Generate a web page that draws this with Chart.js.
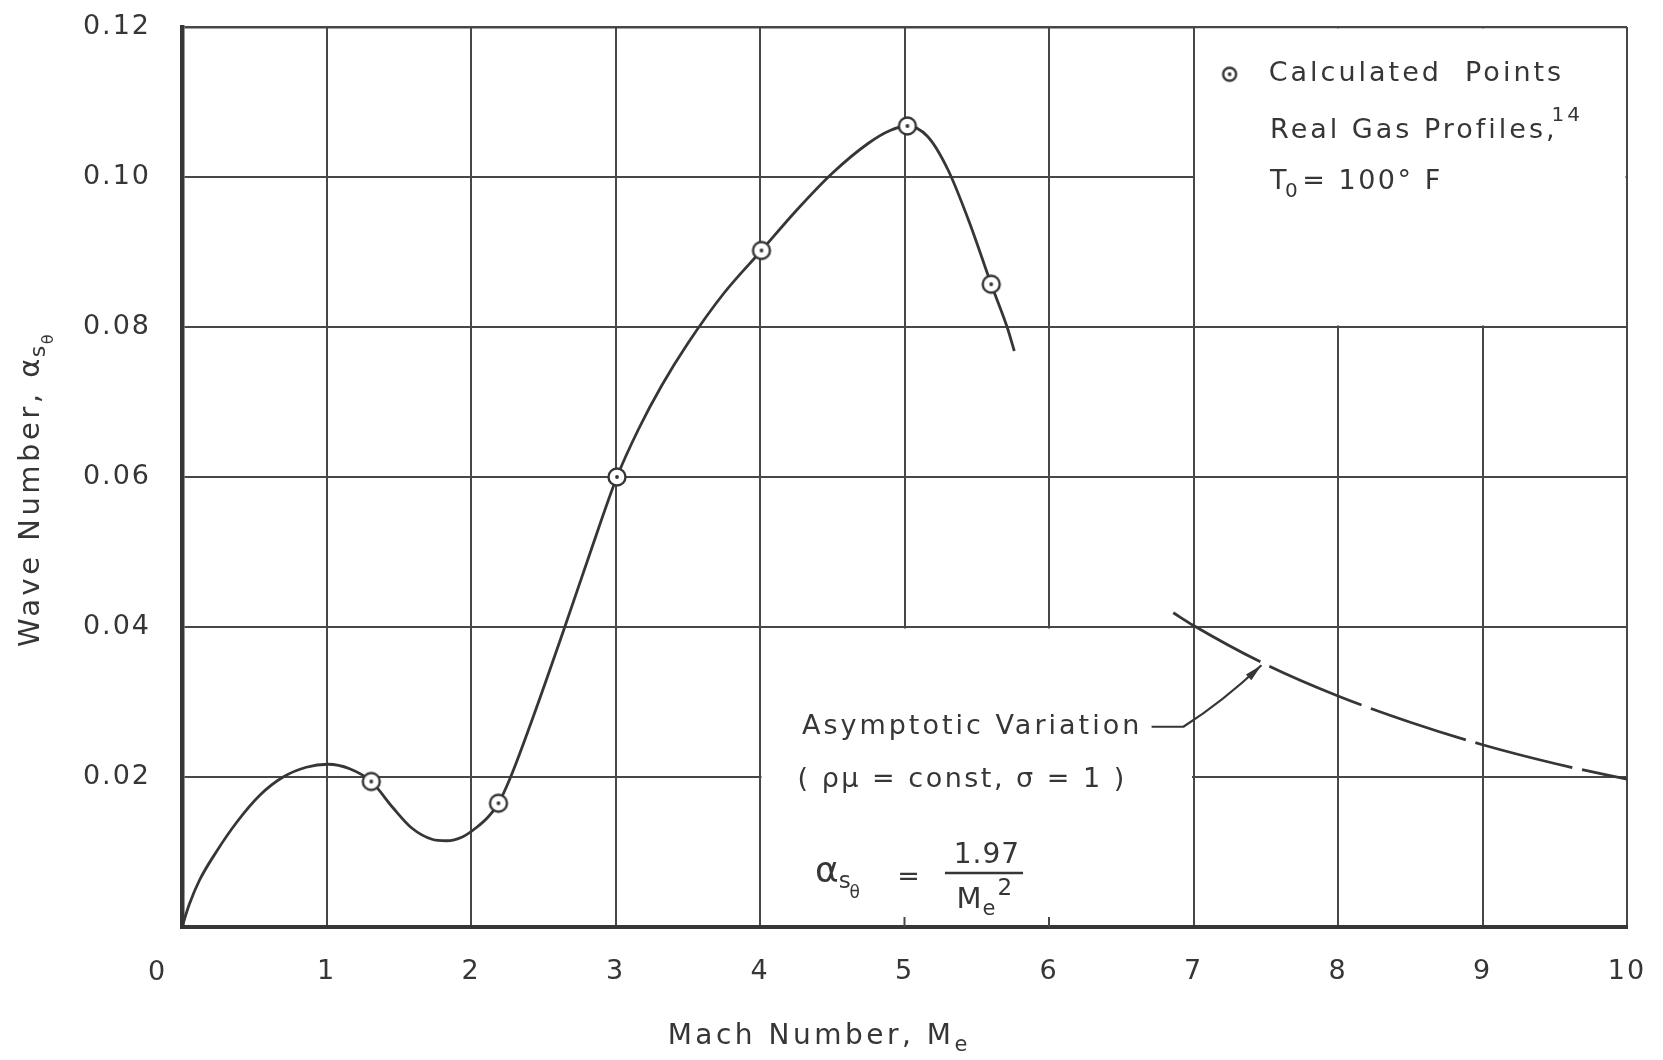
<!DOCTYPE html>
<html>
<head>
<meta charset="utf-8">
<script src="https://cdn.jsdelivr.net/npm/chart.js@4.4.1/dist/chart.umd.min.js"></script>
<style>
	html, body { margin: 0; padding: 0; background: #fff; }
</style>
</head>
<body>
<canvas id="chart" width="1663" height="1060"></canvas>
<script>
'use strict';

// axis ticks
const machTicks = [ 0, 1, 2, 3, 4, 5, 6, 7, 8, 9, 10 ];
const waveTicks = [ 0, 0.02, 0.04, 0.06, 0.08, 0.10, 0.12 ];

// faired curve
const curveMach = [ 0, 0.05, 0.12, 0.24, 0.38, 0.54, 0.70, 0.86, 1.01, 1.16, 1.31, 1.46, 1.59, 1.73, 1.83, 1.94, 2.04, 2.12, 2.19, 2.27, 2.43, 2.64, 2.83, 3.01, 3.16, 3.32, 3.50, 3.75, 4.01, 4.25, 4.50, 4.75, 4.90, 5.02, 5.16, 5.30, 5.45, 5.60, 5.71, 5.76 ];
const curveWave = [ 0, 0.0030, 0.0062, 0.0101, 0.0140, 0.0176, 0.0200, 0.0213, 0.0217, 0.0211, 0.0194, 0.0159, 0.0132, 0.0117, 0.0115, 0.0120, 0.0133, 0.0147, 0.0165, 0.0198, 0.0280, 0.0395, 0.0502, 0.0600, 0.0664, 0.0722, 0.0778, 0.0845, 0.0902, 0.0955, 0.1005, 0.1045, 0.1062, 0.1068, 0.1054, 0.1010, 0.0939, 0.0857, 0.0800, 0.0768 ];

// calculated points (real gas profiles)
const pointMach = [ 1.31, 2.19, 3.01, 4.01, 5.02, 5.60 ];
const pointWave = [ 0.0194, 0.0165, 0.0600, 0.0902, 0.1068, 0.0857 ];

// asymptotic variation (dashed)
const asymMach = [ 6.86, 7.0, 7.5, 8.0, 8.5, 9.0, 9.5, 10.0 ];
const asymWave = [ 0.0419, 0.0402, 0.0350, 0.0308, 0.0273, 0.0243, 0.0218, 0.0197 ];

const INK = '#363636';
const GRID = '#474747';
const FONT = '"DejaVu Sans", sans-serif';

function makeMarker( r ) {
	const c = document.createElement( 'canvas' );
	const s = Math.ceil( r * 2 + 5 );
	c.width = c.height = s;
	const g = c.getContext( '2d' );
	g.beginPath();
	g.arc( s / 2, s / 2, r, 0, Math.PI * 2 );
	g.fillStyle = '#fff';
	g.fill();
	g.lineWidth = 2.4;
	g.strokeStyle = INK;
	g.stroke();
	g.beginPath();
	g.arc( s / 2, s / 2, 1.9, 0, Math.PI * 2 );
	g.fillStyle = INK;
	g.fill();
	return c;
}

const marker = makeMarker( 8.5 );
const smallMarker = makeMarker( 6.5 );

function pairs( xs, ys ) {
	return xs.map( ( x, i ) => ( { x: x, y: ys[ i ] } ) );
}

// draws a run of text pieces, each with its own size and vertical shift
function drawRun( ctx, x, y, pieces, spacing ) {
	ctx.save();
	ctx.letterSpacing = ( spacing || 0 ) + 'px';
	ctx.textBaseline = 'middle';
	ctx.textAlign = 'left';
	ctx.fillStyle = INK;
	pieces.forEach( p => {
		ctx.font = p.size + 'px ' + FONT;
		x += p.gap || 0;
		ctx.fillText( p.t, x, y + ( p.dy || 0 ) );
		x += ctx.measureText( p.t ).width;
	} );
	ctx.restore();
	return x;
}

function runWidth( ctx, pieces, spacing ) {
	ctx.save();
	ctx.letterSpacing = ( spacing || 0 ) + 'px';
	let w = 0;
	pieces.forEach( p => {
		ctx.font = p.size + 'px ' + FONT;
		w += ( p.gap || 0 ) + ctx.measureText( p.t ).width;
	} );
	ctx.restore();
	return w;
}

const figurePlugin = {
	id: 'figure',
	beforeDraw: function ( chart ) {
		chart.ctx.letterSpacing = '2px';
	},
	beforeDatasetsDraw: function ( chart ) {
		const ctx = chart.ctx;
		const X = v => chart.scales.x.getPixelForValue( v );
		const Y = v => chart.scales.y.getPixelForValue( v );
		ctx.save();
		ctx.fillStyle = '#fff';
		// legend box, upper right
		ctx.fillRect( X( 7 ) + 1.5, Y( 0.12 ) + 1.5, X( 10 ) - X( 7 ) - 3, Y( 0.08 ) - Y( 0.12 ) - 3 );
		// note box, lower middle
		ctx.fillRect( X( 4 ) + 1.5, Y( 0.04 ) + 1.5, X( 7 ) - X( 4 ) - 3, Y( 0 ) - Y( 0.04 ) - 3.5 );
		// short stubs left at 5 and 6
		ctx.strokeStyle = GRID;
		ctx.lineWidth = 2;
		[ 5, 6 ].forEach( v => {
			ctx.beginPath();
			ctx.moveTo( X( v ), Y( 0 ) );
			ctx.lineTo( X( v ), Y( 0 ) - 10 );
			ctx.stroke();
		} );
		ctx.restore();
	},
	afterDatasetsDraw: function ( chart ) {
		const ctx = chart.ctx;
		const X = v => chart.scales.x.getPixelForValue( v );
		const Y = v => chart.scales.y.getPixelForValue( v );

		// arrow to the asymptotic curve
		ctx.save();
		ctx.strokeStyle = INK;
		ctx.fillStyle = INK;
		ctx.lineWidth = 2.2;
		const ax = X( 7.47 ), ay = Y( 0.0349 );
		ctx.beginPath();
		ctx.moveTo( X( 6.71 ), Y( 0.0267 ) );
		ctx.lineTo( X( 6.93 ), Y( 0.0267 ) );
		ctx.quadraticCurveTo( X( 7.2 ), Y( 0.0300 ), ax, ay );
		ctx.stroke();
		const ang = Math.atan2( ay - Y( 0.0318 ), ax - X( 7.3 ) );
		ctx.beginPath();
		ctx.moveTo( ax, ay );
		ctx.lineTo( ax - 18 * Math.cos( ang - 0.22 ), ay - 18 * Math.sin( ang - 0.22 ) );
		ctx.lineTo( ax - 18 * Math.cos( ang + 0.22 ), ay - 18 * Math.sin( ang + 0.22 ) );
		ctx.closePath();
		ctx.fill();
		ctx.restore();

		// notes
		drawRun( ctx, X( 4.29 ), Y( 0.0267 ), [ { t: 'Asymptotic Variation', size: 27 } ], 3 );
		drawRun( ctx, X( 4.26 ), Y( 0.0196 ), [
			{ t: '( ρμ = const, σ = 1 )', size: 27 },
		], 2.5 );

		// formula
		drawRun( ctx, X( 4.38 ), Y( 0.0072 ), [
			{ t: 'α', size: 36 },
			{ t: 's', size: 23, dy: 9, gap: -1 },
			{ t: 'θ', size: 17, dy: 21, gap: -2 },
		], 1 );
		drawRun( ctx, X( 4.95 ), Y( 0.0066 ), [ { t: '=', size: 27 } ], 1 );
		ctx.save();
		ctx.strokeStyle = INK;
		ctx.lineWidth = 2.6;
		ctx.beginPath();
		ctx.moveTo( X( 5.28 ), Y( 0.0072 ) );
		ctx.lineTo( X( 5.82 ), Y( 0.0072 ) );
		ctx.stroke();
		ctx.restore();
		const num = [ { t: '1.97', size: 28 } ];
		const numW = runWidth( ctx, num, 1 );
		drawRun( ctx, X( 5.57 ) - numW / 2, Y( 0.0095 ), num, 1 );
		drawRun( ctx, X( 5.36 ), Y( 0.0035 ), [
			{ t: 'M', size: 29 },
			{ t: 'e', size: 21, dy: 9 },
			{ t: '2', size: 23, dy: -12, gap: 1 },
		], 1 );

		// legend
		ctx.drawImage( smallMarker, X( 7.25 ) - smallMarker.width / 2, Y( 0.1137 ) - smallMarker.height / 2 );
		drawRun( ctx, X( 7.52 ), Y( 0.1137 ), [ { t: 'Calculated  Points', size: 27 } ], 3 );
		drawRun( ctx, X( 7.53 ), Y( 0.1062 ), [
			{ t: 'Real Gas Profiles,', size: 27 },
			{ t: '14', size: 20, dy: -15, gap: -6 },
		], 3 );
		drawRun( ctx, X( 7.53 ), Y( 0.0993 ), [
			{ t: 'T', size: 27 },
			{ t: '0', size: 20, dy: 10, gap: -4 },
			{ t: '= 100° F', size: 27, gap: 2 },
		], 2.5 );

		// origin label
		drawRun( ctx, X( 0 ) - 34, Y( 0 ) + 46, [ { t: '0', size: 27 } ], 0 );

		// x title
		const xt = [
			{ t: 'Mach Number, M', size: 28 },
			{ t: 'e', size: 21, dy: 9 },
		];
		const xw = runWidth( ctx, xt, 3.5 );
		drawRun( ctx, X( 4.41 ) - xw / 2, chart.height - 23, xt, 3.5 );

		// y title, rotated
		const yt = [
			{ t: 'Wave Number, α', size: 29 },
			{ t: 's', size: 22, dy: 8, gap: -2 },
			{ t: 'θ', size: 16, dy: 18, gap: -2 },
		];
		const yw = runWidth( ctx, yt, 3.5 );
		ctx.save();
		ctx.translate( 31, ( Y( 0 ) + Y( 0.12 ) ) / 2 + 12 );
		ctx.rotate( -Math.PI / 2 );
		drawRun( ctx, -yw / 2, 0, yt, 3.5 );
		ctx.restore();
	},
};

new Chart( document.getElementById( 'chart' ), {
	type: 'scatter',
	data: {
		datasets: [
			{
				label: 'Calculated Points',
				data: pairs( pointMach, pointWave ),
				showLine: false,
				pointStyle: marker,
				pointRadius: 9,
			},
			{
				label: 'Faired curve',
				data: pairs( curveMach, curveWave ),
				showLine: true,
				borderColor: INK,
				borderWidth: 2.8,
				pointRadius: 0,
				cubicInterpolationMode: 'monotone',
			},
			{
				label: 'Asymptotic Variation',
				data: pairs( asymMach, asymWave ),
				showLine: true,
				borderColor: INK,
				borderWidth: 2.8,
				borderDash: [ 100, 10 ],
				pointRadius: 0,
				cubicInterpolationMode: 'monotone',
			},
		],
	},
	options: {
		responsive: false,
		animation: false,
		devicePixelRatio: 1,
		layout: { autoPadding: false, padding: { top: 27, right: 36, left: 0, bottom: 0 } },
		plugins: {
			legend: { display: false },
			tooltip: { enabled: false },
		},
		scales: {
			x: {
				type: 'linear',
				min: 0,
				max: 10,
				afterBuildTicks: s => { s.ticks = machTicks.map( v => ( { value: v } ) ); },
				afterFit: s => {
					s.height = 133;
					s.paddingLeft = 0;
					s.paddingRight = 0;
				},
				grid: { color: GRID, lineWidth: 2, drawTicks: false },
				border: { display: true, color: INK, width: 4 },
				ticks: {
					padding: 29,
					color: INK,
					font: { family: FONT, size: 27 },
					maxRotation: 0,
					callback: v => ( v === 0 ? '' : String( v ) ),
				},
			},
			y: {
				type: 'linear',
				min: 0,
				max: 0.12,
				afterBuildTicks: s => { s.ticks = waveTicks.map( v => ( { value: v } ) ); },
				afterFit: s => {
					s.width = 182;
					s.paddingTop = 0;
					s.paddingBottom = 0;
				},
				grid: {
					color: GRID,
					lineWidth: c => ( c.tick && c.tick.value === 0.12 ? 2.5 : 2 ),
					drawTicks: false,
				},
				border: { display: true, color: INK, width: 4.5 },
				ticks: {
					padding: 31,
					color: INK,
					font: { family: FONT, size: 27 },
					callback: v => ( v === 0 ? '' : v.toFixed( 2 ) ),
				},
			},
		},
	},
	plugins: [ figurePlugin ],
} );
</script>
</body>
</html>
